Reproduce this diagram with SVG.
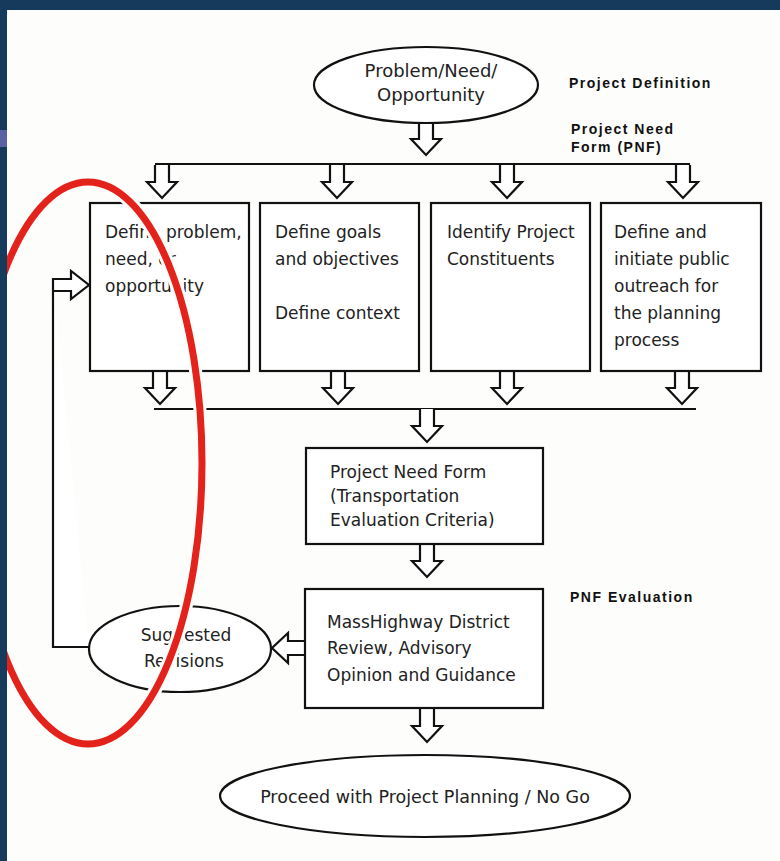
<svg xmlns="http://www.w3.org/2000/svg" xmlns:xlink="http://www.w3.org/1999/xlink" width="780" height="861" viewBox="0 0 780 861">
<style>
.box{fill:#fff;stroke:#111;stroke-width:2.2}
.ell{fill:#fff;stroke:#111;stroke-width:2.2}
.t{font-family:"DejaVu Sans",Verdana,sans-serif;font-size:17px;fill:#222}
.lbl{font-family:"Liberation Sans",Arial,sans-serif;font-size:14px;font-weight:bold;letter-spacing:1.5px;fill:#111}
.ln{fill:none;stroke:#111;stroke-width:2.2}
.arr{fill:#fff;stroke:#111;stroke-width:2.2;stroke-linejoin:miter}
</style>
<defs>
<path id="ha" d="M-7,-33 L-7,-16 L-15,-16 L0,0 L15,-16 L7,-16 L7,-33"/>
</defs>
<rect x="0" y="0" width="780" height="861" fill="#fdfdfb"/>

<g id="connectors">
<use xlink:href="#ha" class="arr" transform="translate(426,155)"/>
<line class="ln" x1="155" y1="164" x2="690" y2="164"/>
<use xlink:href="#ha" class="arr" transform="translate(162,198)"/>
<use xlink:href="#ha" class="arr" transform="translate(337,198)"/>
<use xlink:href="#ha" class="arr" transform="translate(507,198)"/>
<use xlink:href="#ha" class="arr" transform="translate(683,198)"/>
<use xlink:href="#ha" class="arr" transform="translate(160,404)"/>
<use xlink:href="#ha" class="arr" transform="translate(338,404)"/>
<use xlink:href="#ha" class="arr" transform="translate(507,404)"/>
<use xlink:href="#ha" class="arr" transform="translate(682,404)"/>
<line class="ln" x1="154" y1="409" x2="696" y2="409"/>
<use xlink:href="#ha" class="arr" transform="translate(427,442)"/>
<use xlink:href="#ha" class="arr" transform="translate(427,577)"/>
<use xlink:href="#ha" class="arr" transform="translate(427,742)"/>
<use xlink:href="#ha" class="arr" transform="translate(272,648) rotate(90)"/>
<path class="arr" d="M89,647 L53,647 L53,279 L71,279 L71,271 L89,285 L71,299 L71,291 L54,291"/>
</g>

<g id="n_problem">
<ellipse class="ell" cx="426" cy="85" rx="112" ry="38"/>
<text class="t" x="431" y="77" text-anchor="middle" style="font-size:18px">Problem/Need/</text>
<text class="t" x="431" y="101" text-anchor="middle" style="font-size:18px">Opportunity</text>
</g>

<g id="n_box1">
<rect class="box" x="90" y="203" width="159" height="168"/>
<text class="t" x="105" y="238">Define problem,</text>
<text class="t" x="105" y="265">need, or</text>
<text class="t" x="105" y="292">opportunity</text>
</g>
<g id="n_box2">
<rect class="box" x="260" y="203" width="159" height="168"/>
<text class="t" x="275" y="238">Define goals</text>
<text class="t" x="275" y="265">and objectives</text>
<text class="t" x="275" y="319">Define context</text>
</g>
<g id="n_box3">
<rect class="box" x="431" y="203" width="159" height="168"/>
<text class="t" x="447" y="238">Identify Project</text>
<text class="t" x="447" y="265">Constituents</text>
</g>
<g id="n_box4">
<rect class="box" x="601" y="203" width="160" height="168"/>
<text class="t" x="614" y="238">Define and</text>
<text class="t" x="614" y="265">initiate public</text>
<text class="t" x="614" y="292">outreach for</text>
<text class="t" x="614" y="319">the planning</text>
<text class="t" x="614" y="346">process</text>
</g>

<g id="n_pnf">
<rect class="box" x="306" y="448" width="237" height="96"/>
<text class="t" x="330" y="478">Project Need Form</text>
<text class="t" x="330" y="502">(Transportation</text>
<text class="t" x="330" y="526">Evaluation Criteria)</text>
</g>

<g id="n_review">
<rect class="box" x="305" y="589" width="238" height="119"/>
<text class="t" x="327" y="628">MassHighway District</text>
<text class="t" x="327" y="654">Review, Advisory</text>
<text class="t" x="327" y="681">Opinion and Guidance</text>
</g>

<g id="n_revisions">
<ellipse class="ell" cx="180" cy="649" rx="91" ry="43"/>
<text class="t" x="186" y="641" text-anchor="middle">Suggested</text>
<text class="t" x="184" y="667" text-anchor="middle">Revisions</text>
</g>

<g id="n_proceed">
<ellipse class="ell" cx="425" cy="796" rx="205" ry="41"/>
<text class="t" x="425" y="803" text-anchor="middle" style="font-size:17.5px">Proceed with Project Planning / No Go</text>
</g>

<g id="labels">
<text class="lbl" x="569" y="88">Project Definition</text>
<text class="lbl" x="571" y="134">Project Need</text>
<text class="lbl" x="571" y="152">Form (PNF)</text>
<text class="lbl" x="570" y="602">PNF Evaluation</text>
</g>

<g id="highlight">
<ellipse cx="88" cy="463" rx="114" ry="281" fill="none" stroke="#fdfdfb" stroke-width="13"/>
<ellipse cx="88" cy="463" rx="114" ry="281" fill="none" stroke="#e3221b" stroke-width="7"/>
</g>
<rect x="0" y="0" width="7" height="861" fill="#163a5c"/>
<rect x="0" y="130" width="7" height="17" fill="#5a61a3"/>
<rect x="0" y="0" width="780" height="10" fill="#163a5c"/>
</svg>
